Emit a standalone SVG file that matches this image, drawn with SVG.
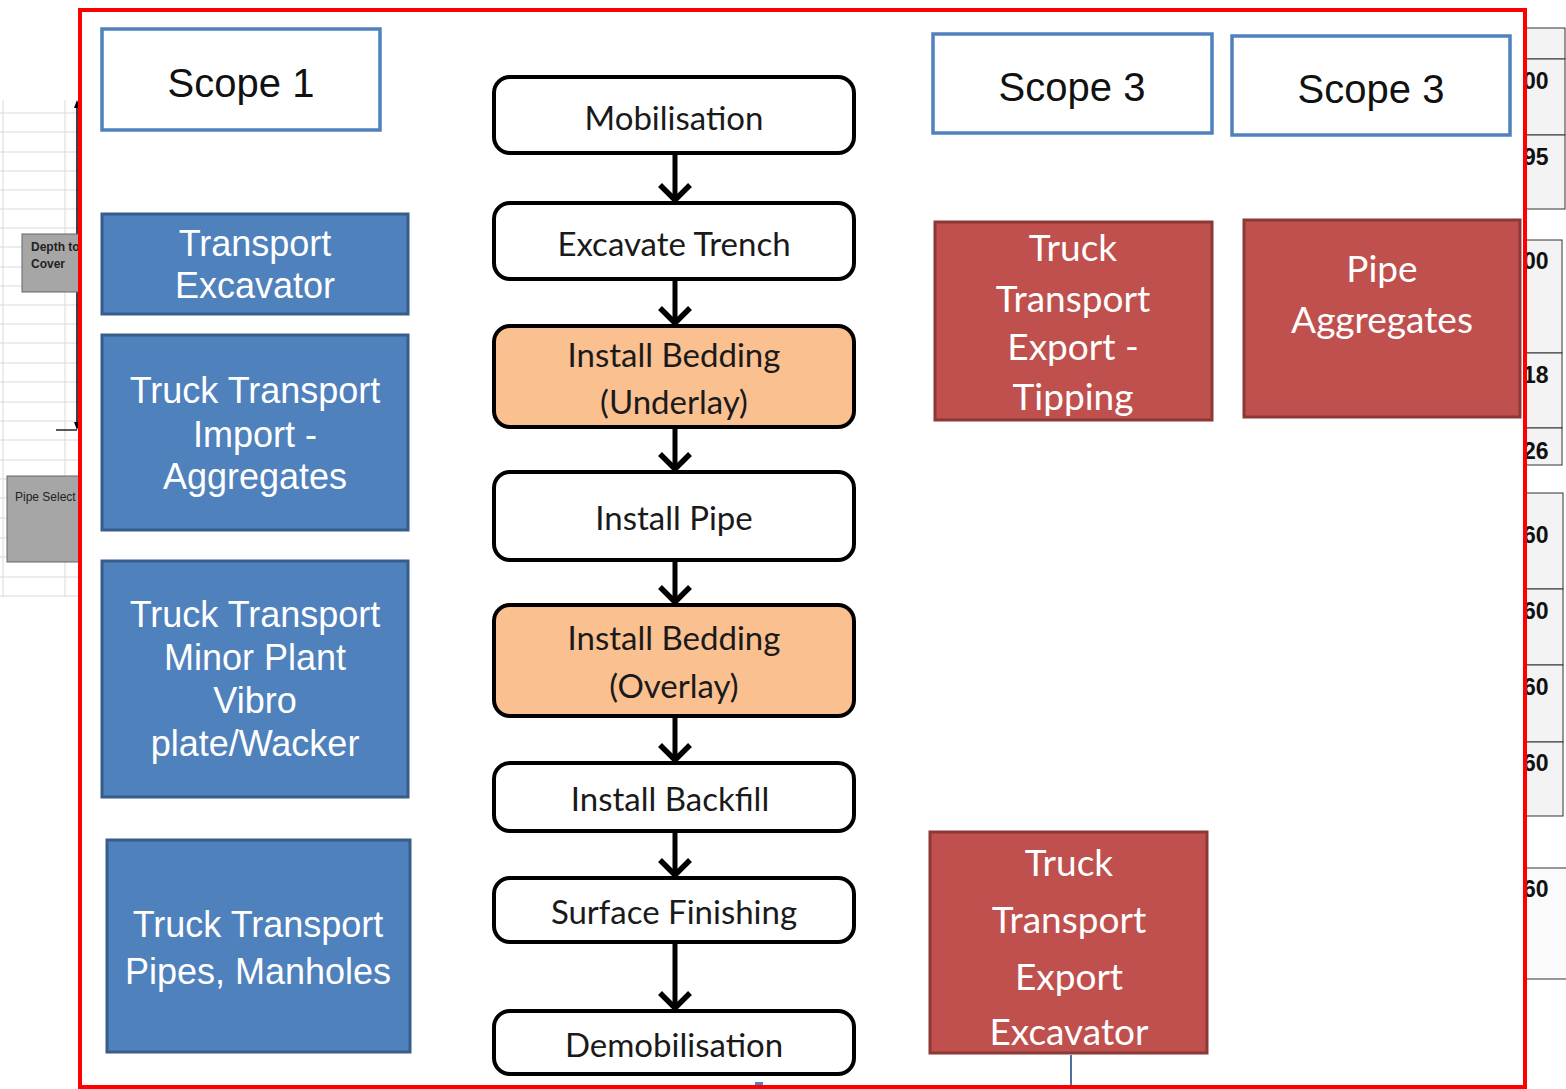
<svg xmlns="http://www.w3.org/2000/svg" width="1566" height="1089" viewBox="0 0 1566 1089">
<style>
.scope{fill:#fff;stroke:#4f81bd;stroke-width:3.5}
.scopet{font-family:"Liberation Sans",Arial,sans-serif;font-size:40px;fill:#111;text-anchor:middle}
.blue{fill:#4f81bd;stroke:#385d8a;stroke-width:3}
.bluet{font-family:"Liberation Sans",Arial,sans-serif;font-size:36px;fill:#fff;text-anchor:middle}
.red{fill:#c0504d;stroke:#8c3836;stroke-width:3}
.redt{font-family:Lato,"Open Sans",sans-serif;font-size:37px;fill:#fff;text-anchor:middle}
.step{fill:#fff;stroke:#000;stroke-width:4}
.bed{fill:#fac090;stroke:#000;stroke-width:4}
.stept{font-family:Lato,"Open Sans",sans-serif;font-size:33px;fill:#1a1a1a;text-anchor:middle}
.grid{stroke:#d9d9d9;stroke-width:1}
.sheet{font-family:"Liberation Sans",Arial,sans-serif;font-weight:bold;font-size:12px;fill:#222}
.num{font-family:"Liberation Sans",Arial,sans-serif;font-weight:bold;font-size:23px;fill:#111}
.cell{fill:#f3f3f3;stroke:#333;stroke-width:1}
</style>
<defs>
<marker id="v" viewBox="0 0 20 34" refX="18" refY="17" markerWidth="20" markerHeight="34" orient="auto" markerUnits="userSpaceOnUse">
<path d="M2,2 L17,17 L2,32" fill="none" stroke="#000" stroke-width="5.5"/>
</marker>
<clipPath id="leftclip"><rect x="0" y="0" width="79" height="1089"/></clipPath>
<clipPath id="rightclip"><rect x="1526" y="0" width="40" height="1089"/></clipPath>
</defs>
<rect width="1566" height="1089" fill="#fff"/>
<g id="background-left" clip-path="url(#leftclip)">
<g class="grid">
<line x1="3" y1="100" x2="3" y2="597"/>
<line x1="65" y1="100" x2="65" y2="597"/>
<line x1="0" y1="113" x2="79" y2="113"/><line x1="0" y1="132" x2="79" y2="132"/>
<line x1="0" y1="152" x2="79" y2="152"/><line x1="0" y1="171" x2="79" y2="171"/>
<line x1="0" y1="190" x2="79" y2="190"/><line x1="0" y1="209" x2="79" y2="209"/>
<line x1="0" y1="228" x2="79" y2="228"/><line x1="0" y1="247" x2="79" y2="247"/>
<line x1="0" y1="267" x2="79" y2="267"/><line x1="0" y1="286" x2="79" y2="286"/>
<line x1="0" y1="305" x2="79" y2="305"/><line x1="0" y1="324" x2="79" y2="324"/>
<line x1="0" y1="343" x2="79" y2="343"/><line x1="0" y1="363" x2="79" y2="363"/>
<line x1="0" y1="382" x2="79" y2="382"/><line x1="0" y1="402" x2="79" y2="402"/>
<line x1="0" y1="421" x2="79" y2="421"/><line x1="0" y1="440" x2="79" y2="440"/>
<line x1="0" y1="460" x2="79" y2="460"/><line x1="0" y1="479" x2="79" y2="479"/>
<line x1="0" y1="498" x2="79" y2="498"/><line x1="0" y1="518" x2="79" y2="518"/>
<line x1="0" y1="538" x2="79" y2="538"/><line x1="0" y1="557" x2="79" y2="557"/>
<line x1="0" y1="577" x2="79" y2="577"/><line x1="0" y1="596" x2="79" y2="596"/>
</g>
<line x1="77" y1="102" x2="77" y2="428" stroke="#000" stroke-width="1.5"/>
<path d="M74,108 L77,100 L80,108 Z" fill="#000"/>
<path d="M74,422 L77,430 L80,422 Z" fill="#000"/>
<line x1="56" y1="430" x2="77" y2="430" stroke="#222" stroke-width="1.5"/>
<rect x="22" y="234" width="70" height="58" fill="#a6a6a6" stroke="#666" stroke-width="1"/>
<text class="sheet" x="31" y="251">Depth to</text>
<text class="sheet" x="31" y="268">Cover</text>
<rect x="7" y="476" width="85" height="86" fill="#a6a6a6" stroke="#666" stroke-width="1"/>
<text class="sheet" x="15" y="501" style="font-weight:normal">Pipe Select</text>
</g>
<g id="background-right" clip-path="url(#rightclip)">
<rect class="cell" x="1500" y="28" width="65" height="31"/>
<rect class="cell" x="1500" y="59" width="65" height="76"/>
<rect class="cell" x="1500" y="135" width="65" height="74"/>
<rect class="cell" x="1500" y="240" width="62" height="113"/>
<rect class="cell" x="1500" y="353" width="62" height="75"/>
<rect class="cell" x="1500" y="428" width="62" height="37"/>
<rect class="cell" x="1500" y="493" width="63" height="96"/>
<rect class="cell" x="1500" y="589" width="63" height="76"/>
<rect class="cell" x="1500" y="665" width="63" height="77"/>
<rect class="cell" x="1500" y="742" width="63" height="74"/>
<rect x="1500" y="868" width="80" height="111" fill="#fafafa" stroke="#333" stroke-width="1"/>
<text class="num" x="1523" y="89">00</text>
<text class="num" x="1523" y="165">95</text>
<text class="num" x="1523" y="269">00</text>
<text class="num" x="1523" y="383">18</text>
<text class="num" x="1523" y="459">26</text>
<text class="num" x="1523" y="543">60</text>
<text class="num" x="1523" y="619">60</text>
<text class="num" x="1523" y="695">60</text>
<text class="num" x="1523" y="771">60</text>
<text class="num" x="1523" y="897">60</text>
</g>
<rect x="80" y="10" width="1445" height="1077" fill="#fff"/>
<g id="scope1"><rect class="scope" x="102" y="29" width="278" height="101"/><text class="scopet" x="241" y="97">Scope 1</text></g>
<g id="scope3a"><rect class="scope" x="933" y="34" width="279" height="99"/><text class="scopet" x="1072" y="101">Scope 3</text></g>
<g id="scope3b"><rect class="scope" x="1232" y="36" width="278" height="99"/><text class="scopet" x="1371" y="103">Scope 3</text></g>
<g id="transport-excavator"><rect class="blue" x="102" y="214" width="306" height="100"/>
<text class="bluet" x="255" y="256">Transport</text><text class="bluet" x="255" y="298">Excavator</text></g>
<g id="truck-import-aggregates"><rect class="blue" x="102" y="335" width="306" height="195"/>
<text class="bluet" x="255" y="403">Truck Transport</text><text class="bluet" x="255" y="447">Import -</text><text class="bluet" x="255" y="489">Aggregates</text></g>
<g id="truck-minor-plant"><rect class="blue" x="102" y="561" width="306" height="236"/>
<text class="bluet" x="255" y="627">Truck Transport</text><text class="bluet" x="255" y="670">Minor Plant</text><text class="bluet" x="255" y="713">Vibro</text><text class="bluet" x="255" y="756">plate/Wacker</text></g>
<g id="truck-pipes-manholes"><rect class="blue" x="107" y="840" width="303" height="212"/>
<text class="bluet" x="258" y="937">Truck Transport</text><text class="bluet" x="258" y="984">Pipes, Manholes</text></g>
<g id="mobilisation"><rect class="step" x="494" y="77" width="360" height="76" rx="16"/><text class="stept" x="674" y="130">Mobilisation</text></g>
<g id="excavate-trench"><rect class="step" x="494" y="203" width="360" height="76" rx="16"/><text class="stept" x="674" y="256">Excavate Trench</text></g>
<g id="bedding-underlay"><rect class="bed" x="494" y="326" width="360" height="101" rx="16"/><text class="stept" x="674" y="367">Install Bedding</text><text class="stept" x="674" y="414">(Underlay)</text></g>
<g id="install-pipe"><rect class="step" x="494" y="472" width="360" height="88" rx="16"/><text class="stept" x="674" y="530">Install Pipe</text></g>
<g id="bedding-overlay"><rect class="bed" x="494" y="605" width="360" height="111" rx="16"/><text class="stept" x="674" y="650">Install Bedding</text><text class="stept" x="674" y="698">(Overlay)</text></g>
<g id="install-backfill"><rect class="step" x="494" y="763" width="360" height="68" rx="16"/><text class="stept" x="670" y="811">Install Backfill</text></g>
<g id="surface-finishing"><rect class="step" x="494" y="878" width="360" height="64" rx="16"/><text class="stept" x="674" y="924">Surface Finishing</text></g>
<g id="demobilisation"><rect class="step" x="494" y="1011" width="360" height="63" rx="16"/><text class="stept" x="674" y="1057">Demobilisation</text></g>
<g id="export-tipping"><rect class="red" x="935" y="222" width="277" height="198"/>
<text class="redt" x="1073" y="261">Truck</text><text class="redt" x="1073" y="312">Transport</text><text class="redt" x="1073" y="360">Export -</text><text class="redt" x="1073" y="410">Tipping</text></g>
<g id="pipe-aggregates"><rect class="red" x="1244" y="220" width="276" height="197"/>
<text class="redt" x="1382" y="282">Pipe</text><text class="redt" x="1382" y="333">Aggregates</text></g>
<g id="export-excavator"><rect class="red" x="930" y="832" width="277" height="221"/>
<text class="redt" x="1069" y="876">Truck</text><text class="redt" x="1069" y="933">Transport</text><text class="redt" x="1069" y="990">Export</text><text class="redt" x="1069" y="1045">Excavator</text></g>
<g id="connectors" stroke="#000" stroke-width="5" fill="none" marker-end="url(#v)">
<line x1="675" y1="155" x2="675" y2="201"/>
<line x1="675" y1="281" x2="675" y2="324"/>
<line x1="675" y1="429" x2="675" y2="470"/>
<line x1="675" y1="562" x2="675" y2="603"/>
<line x1="675" y1="718" x2="675" y2="761"/>
<line x1="675" y1="833" x2="675" y2="876"/>
<line x1="675" y1="944" x2="675" y2="1009"/>
<line x1="1071" y1="1055" x2="1071" y2="1089" stroke="#4f6fa0" stroke-width="2" marker-end="none"/>
</g>
<rect x="755" y="1082" width="8" height="4" fill="#4f81bd"/>
<rect x="80" y="10" width="1445" height="1077" fill="none" stroke="#ff0000" stroke-width="4"/>
</svg>
